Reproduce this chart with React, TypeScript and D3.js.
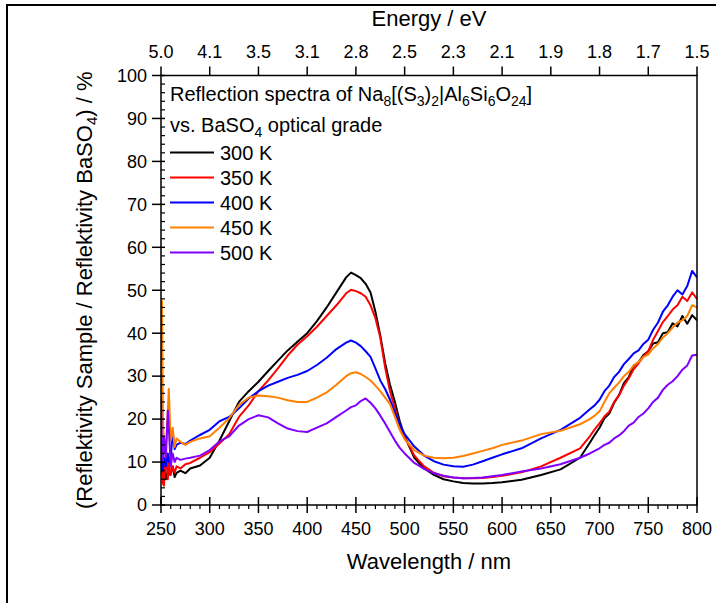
import React from "react";
import * as d3 from "d3";

const wavelengths = [250,251,252,253,255,257,258,260,262,264,266,270,275,280,
  290,300,310,320,330,340,350,360,370,380,390,400,410,420,430,440,
  445,450,455,460,465,470,475,480,485,490,495,500,
  510,520,530,540,550,560,570,580,590,600,
  620,640,660,680,
  690,695,700,705,710,715,720,725,730,735,740,745,750,755,760,765,770,775,780,785,790,795,800];

const k300 = [12,8,7,9,6,8,7,7.5,9,6.5,7.5,8,7.4,8.5,
  9.2,11,15,19.5,24,26.5,28.7,31.2,33.6,36,38,40,42.8,46,49.5,53,
  54.1,53.5,52.8,51.5,49.5,45,39.5,33,28,24,19.5,16,
  11,8.5,7,6,5.5,5.1,5,5,5.1,5.3,
  5.9,7,8.3,11,
  14.5,16.3,18,20.2,21.3,23.8,25.6,28.4,29.8,32.4,33.2,34.9,35.8,37.6,37.9,40,40.2,42.3,41.6,44,42.2,44.2,43];

const k350 = [26,12,5,4.5,12,6,10,7,9,7.5,9,8.5,9.5,9.8,
  11,12.3,14.3,16.5,20.5,23.2,26.5,29,31.8,34.8,37.3,39.3,41.5,44,46.5,49.3,
  50.1,49.8,49.3,48.5,46.5,43.5,39,32,26.5,22.5,18.5,15.8,
  11.5,9,7.5,6.7,6.4,6.2,6.2,6.3,6.5,6.8,
  7.6,9,11,13.2,
  16,17.6,19,20.6,21.7,24,25.5,27.8,29.5,31.6,33,34.6,35.8,38.5,40.5,42.6,44,45.5,46.5,48.5,47.5,49.5,48];

const k400 = [12,10,8,11,9,12,10,11,17,13,14,14.5,14.2,15,
  16.3,17.5,19.5,20.5,22.5,24.8,26.5,27.8,28.7,29.6,30.3,31.2,32.6,34.3,36.3,37.8,
  38.3,37.8,37,35.8,34.5,31.8,29,27,24.5,21.5,18.8,16.5,
  13.6,11.5,10.2,9.4,9,8.9,9.4,10.2,11,11.8,
  13.2,15.5,17.5,20.3,
  22.3,23.2,24.5,26.5,27.8,29.8,31,32.8,34,35.3,36,37.5,38.5,40.8,42.5,45,46.5,48.5,50,49,51,54.5,53];

const k450 = [11,47.5,20,14,13,22,27,15,18,13.5,15.5,14.7,14,14.7,
  15.5,16,18,20.2,23.3,25,25.5,25.3,25,24.4,24,24,25,26.2,28,30,
  30.7,30.9,30.5,29.8,29,27.8,26.5,25,23.5,20.5,17.5,15.3,
  12.8,11.5,11,10.9,11,11.4,12,12.6,13.2,14,
  15,16.5,17.3,18.8,
  20,20.8,21.8,24,26,27.3,28.5,30,31,32.5,33.3,34.5,35,36.5,37.5,39,40,41.3,42.5,43,44,46.5,46];

const k500 = [25,12,10,16,11,22,18,9,12,10,11,10.5,10.8,11,
  11.5,12.8,14.8,16,18.5,20,20.9,20.4,19,17.8,17.2,17,18,19,20.5,22,
  22.8,23.2,24.2,24.8,23.8,22.5,20.8,19,17,15,13.3,12,
  9.8,8.4,7.4,6.8,6.4,6.25,6.3,6.4,6.7,7,
  7.8,8.5,9.5,11,
  12,12.6,13.2,14,14.5,15.5,16.2,17.2,18.5,19.2,20.5,21.3,22.5,24,25,26.8,28,28.8,30,31.5,32.5,34.8,35];

const seriesNames = ["300 K", "350 K", "400 K", "450 K", "500 K"];
const seriesValues = [k300, k350, k400, k450, k500];
const seriesColors = ["#000000", "#ff0000", "#0000ff", "#ff8000", "#8000ff"];

const xTicks = [250,300,350,400,450,500,550,600,650,700,750,800];
const yTicks = [0,10,20,30,40,50,60,70,80,90,100];
const energyLabels = ["5.0","4.1","3.5","3.1","2.8","2.5","2.3","2.1","1.9","1.8","1.7","1.5"];

const W = 716, H = 603;
const left = 161, right = 697, top = 75.5, bottom = 505;
const FONT = "'Liberation Sans', Arial, Helvetica, sans-serif";

export default function App() {
  const x = d3.scaleLinear().domain([250, 800]).range([left, right]);
  const y = d3.scaleLinear().domain([0, 100]).range([bottom, top]);
  const line = d3.line<number>()
    .x((_, i) => x(wavelengths[i]))
    .y((d) => y(d));

  const xMinor = d3.range(250, 801, 10).filter((v) => v % 50 !== 0);
  const yMinor = d3.range(0, 101, 2).filter((v) => v % 10 !== 0);

  const legendTop = 160;
  const legendStep = 25;

  return (
    <svg width={W} height={H} style={{ position: "absolute", left: 0, top: 0, background: "#fff" }} fontFamily={FONT}>
      <rect x={0} y={0} width={W} height={H} fill="#fff" />
      <rect x={7} y={5} width={800} height={700} fill="none" stroke="#000" strokeWidth={2} />
      <defs>
        <clipPath id="plotclip">
          <rect x={left} y={top} width={right - left} height={bottom - top} />
        </clipPath>
      </defs>

      {/* curves */}
      <g clipPath="url(#plotclip)">
        {seriesValues.map((vals, i) => (
          <path key={i} d={line(vals) || ""} fill="none" stroke={seriesColors[i]} strokeWidth={2} strokeLinejoin="round" />
        ))}
      </g>

      {/* frame */}
      <rect x={left} y={top} width={right - left} height={bottom - top} fill="none" stroke="#000" strokeWidth={1.5} />

      {/* bottom axis */}
      {xTicks.map((t) => (
        <g key={"xb" + t}>
          <line x1={x(t)} x2={x(t)} y1={bottom - 8} y2={bottom + 8} stroke="#000" strokeWidth={1.5} />
          <text x={x(t)} y={535} fontSize={18} textAnchor="middle" fill="#000">{t}</text>
        </g>
      ))}
      {xMinor.map((t) => (
        <line key={"xm" + t} x1={x(t)} x2={x(t)} y1={bottom} y2={bottom + 4} stroke="#000" strokeWidth={1.2} />
      ))}
      <text x={(left + right) / 2} y={569} fontSize={22} textAnchor="middle" fill="#000">Wavelength / nm</text>

      {/* top axis */}
      {xTicks.map((t, i) => (
        <g key={"xt" + t}>
          <line x1={x(t)} x2={x(t)} y1={top} y2={top - 9} stroke="#000" strokeWidth={1.5} />
          <text x={x(t)} y={57.5} fontSize={18} textAnchor="middle" fill="#000">{energyLabels[i]}</text>
        </g>
      ))}
      <text x={(left + right) / 2} y={26} fontSize={22} textAnchor="middle" fill="#000">Energy / eV</text>

      {/* left axis */}
      {yTicks.map((t) => (
        <g key={"y" + t}>
          <line x1={left - 9} x2={left + 4} y1={y(t)} y2={y(t)} stroke="#000" strokeWidth={1.5} />
          <text x={147} y={y(t) + 6.3} fontSize={18} textAnchor="end" fill="#000">{t}</text>
        </g>
      ))}
      {yMinor.map((t) => (
        <line key={"ym" + t} x1={left} x2={left + 4} y1={y(t)} y2={y(t)} stroke="#000" strokeWidth={1.2} />
      ))}
      <text transform={`translate(92, ${(top + bottom) / 2}) rotate(-90)`} fontSize={22} textAnchor="middle" fill="#000">
        (Reflektivity Sample / Reflektivity BaSO<tspan fontSize={15} dy={5}>4</tspan><tspan dy={-5}>) / %</tspan>
      </text>

      {/* legend header */}
      <text x={170} y={100.5} fontSize={20} fill="#000">
        Reflection spectra of Na<tspan fontSize={14} dy={5}>8</tspan>
        <tspan dy={-5}>[(S</tspan><tspan fontSize={14} dy={5}>3</tspan>
        <tspan dy={-5}>)</tspan><tspan fontSize={14} dy={5}>2</tspan>
        <tspan dy={-5}>|Al</tspan><tspan fontSize={14} dy={5}>6</tspan>
        <tspan dy={-5}>Si</tspan><tspan fontSize={14} dy={5}>6</tspan>
        <tspan dy={-5}>O</tspan><tspan fontSize={14} dy={5}>24</tspan>
        <tspan dy={-5}>]</tspan>
      </text>
      <text x={170} y={131.5} fontSize={20} fill="#000">
        vs. BaSO<tspan fontSize={14} dy={5}>4</tspan><tspan dy={-5}> optical grade</tspan>
      </text>

      {seriesNames.map((name, i) => (
        <g key={name}>
          <line x1={170} x2={214} y1={legendTop - 7.5 + i * legendStep} y2={legendTop - 7.5 + i * legendStep} stroke={seriesColors[i]} strokeWidth={2} />
          <text x={220} y={legendTop + i * legendStep} fontSize={20} fill="#000">{name}</text>
        </g>
      ))}
    </svg>
  );
}
